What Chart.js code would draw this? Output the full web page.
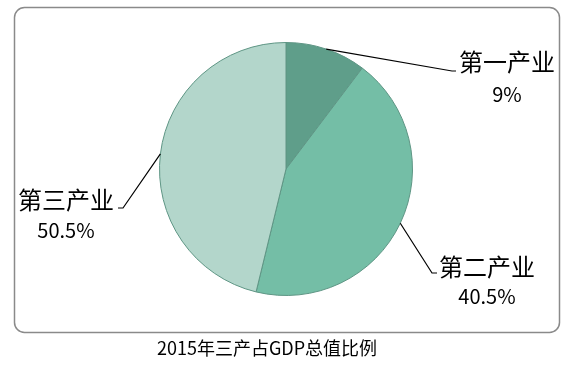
<!DOCTYPE html>
<html>
<head>
<meta charset="utf-8">
<script src="https://cdn.jsdelivr.net/npm/chart.js@4"></script>
<style>
  html, body { margin: 0; padding: 0; background: #fff; }
  #wrap { width: 577px; height: 366px; }
</style>
</head>
<body>
<div id="wrap"><canvas id="chart-01" width="577" height="366"></canvas></div>
<script>
// sectors as drawn (clockwise from 12 o'clock)
const sectors = ['第一产业', '第二产业', '第三产业'];
const shares = [10.3, 43.5, 46.2];
const shareLabels = ['9%', '40.5%', '50.5%'];
const sliceColors = ['#5f9e8a', '#74bea6', '#b3d6cb'];
const chartTitle = '2015年三产占GDP总值比例';

// where each label sits and how its leader bends
const labelSpots = [
    { bend: [452, 71], end: [456, 71], name: [507, 62], pct: [507, 94] },
    { bend: [432, 273], end: [437, 273], name: [487, 267], pct: [487, 296] },
    { bend: [123, 208], end: [118, 208], name: [66, 200], pct: [66, 230] }
];

const frame = {
    id: 'frame',
    beforeDraw(chart) {
        const c = chart.ctx;
        c.save();
        c.strokeStyle = '#8a8a8a';
        c.lineWidth = 1.5;
        c.beginPath();
        c.roundRect(14.5, 7.5, 545, 325, 10);
        c.stroke();
        c.restore();
    },
    afterDraw(chart) {
        const c = chart.ctx;
        const arcs = chart.getDatasetMeta(0).data;
        c.save();
        arcs.forEach((arc, i) => {
            const mid = (arc.startAngle + arc.endAngle) / 2;
            const sx = arc.x + Math.cos(mid) * arc.outerRadius;
            const sy = arc.y + Math.sin(mid) * arc.outerRadius;
            const spot = labelSpots[i];
            c.strokeStyle = '#000';
            c.lineWidth = 1.2;
            c.beginPath();
            c.moveTo(sx, sy);
            c.lineTo(spot.bend[0], spot.bend[1]);
            c.lineTo(spot.end[0], spot.end[1]);
            c.stroke();

            c.fillStyle = '#000';
            c.textAlign = 'center';
            c.textBaseline = 'middle';
            c.font = '24px "Noto Sans CJK SC"';
            c.fillText(sectors[i], spot.name[0], spot.name[1]);
            c.font = '20px "Noto Sans CJK SC"';
            c.fillText(shareLabels[i], spot.pct[0], spot.pct[1]);
        });

        // title sits under the frame, a little left of centre
        c.fillStyle = '#000';
        c.textAlign = 'center';
        c.textBaseline = 'middle';
        c.font = '18px "Noto Sans CJK SC"';
        c.fillText(chartTitle, 267, 348);
        c.restore();
    }
};

const ctx = document.getElementById('chart-01').getContext('2d');

const chart_01 = new Chart(ctx, {
    type: 'pie',
    data: {
        labels: sectors,
        datasets: [{
            data: shares,
            backgroundColor: sliceColors,
            borderColor: '#5e9584',
            borderWidth: 1
        }]
    },
    options: {
        responsive: false,
        animation: false,
        layout: {
            padding: { left: 159, right: 164, top: 42, bottom: 70 }
        },
        plugins: {
            legend: { display: false },
            tooltip: { enabled: false },
            title: { display: false }
        }
    },
    plugins: [frame]
});
</script>
</body>
</html>
